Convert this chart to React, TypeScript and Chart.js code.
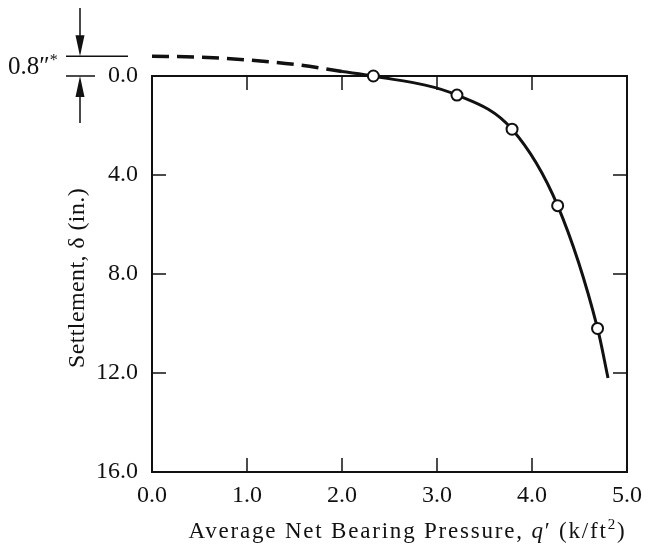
import React, { useEffect, useRef } from "react";
import { Chart, registerables } from "chart.js";

Chart.register(...registerables);

// Measured load test points (q', settlement)
const testQ = [2.33, 3.21, 3.79, 4.27, 4.69];
const testSettlement = [0.0, 0.77, 2.15, 5.24, 10.2];

// Fitted solid curve
const curveQ = [2.0, 2.33, 3.21, 3.79, 4.27, 4.69, 4.8];
const curveSettlement = [-0.18, 0.0, 0.77, 2.15, 5.24, 10.2, 12.2];

// Dashed extrapolation back to q' = 0
const dashQ = [0.0, 0.5, 1.0, 1.5, 2.0];
const dashSettlement = [-0.8, -0.76, -0.65, -0.47, -0.18];

const xTickValues = [0, 1, 2, 3, 4, 5];
const yTickValues = [0, 4, 8, 12, 16];
const offsetValue = -0.8;
const offsetLabel = "0.8\u2033";
const yTitle = "Settlement, \u03b4 (in.)";

const FONT = '"Liberation Serif", "Times New Roman", serif';
const INK = "#111";

const toPts = (xs: number[], ys: number[]) => xs.map((x, i) => ({ x, y: ys[i] }));

const decor = {
  id: "decor",
  beforeDatasetsDraw(chart: any) {
    const { ctx, chartArea: a, scales } = chart;
    const xs = scales.x;
    const ys = scales.y;
    ctx.save();
    ctx.strokeStyle = INK;
    ctx.lineWidth = 2;
    ctx.strokeRect(a.left, a.top, a.right - a.left, a.bottom - a.top);
    ctx.lineWidth = 1.5;
    const tl = 14;
    ctx.beginPath();
    xTickValues.slice(1, -1).forEach((v) => {
      const px = xs.getPixelForValue(v);
      ctx.moveTo(px, a.bottom);
      ctx.lineTo(px, a.bottom - tl);
      ctx.moveTo(px, a.top);
      ctx.lineTo(px, a.top + tl);
    });
    yTickValues.slice(1, -1).forEach((v) => {
      const py = ys.getPixelForValue(v);
      ctx.moveTo(a.left, py);
      ctx.lineTo(a.left + tl, py);
      ctx.moveTo(a.right, py);
      ctx.lineTo(a.right - tl, py);
    });
    ctx.stroke();
    ctx.restore();
  },
  afterDraw(chart: any) {
    const { ctx, chartArea: a, scales } = chart;
    const ys = scales.y;
    ctx.save();
    ctx.fillStyle = INK;
    ctx.strokeStyle = INK;

    // Y title
    ctx.font = `24px ${FONT}`;
    ctx.textAlign = "center";
    ctx.textBaseline = "middle";
    ctx.save();
    ctx.translate(a.left - 74, (a.top + a.bottom) / 2 + 4);
    ctx.rotate(-Math.PI / 2);
    (ctx as any).letterSpacing = "0.4px";
    ctx.fillText(yTitle, 0, 0);
    ctx.restore();

    // X title with italic q and superscript 2
    const base = `23px ${FONT}`;
    const ital = `italic 23px ${FONT}`;
    const sup = `15px ${FONT}`;
    const parts: [string, string, number][] = [
      ["Average Net Bearing Pressure, ", base, 0],
      ["q", ital, 0],
      ["\u2032 (k/ft", base, 0],
      ["2", sup, -9],
      [")", base, 0],
    ];
    (ctx as any).letterSpacing = "1.8px";
    ctx.textAlign = "left";
    ctx.textBaseline = "alphabetic";
    let total = 0;
    parts.forEach(([t, f]) => {
      ctx.font = f;
      total += ctx.measureText(t).width;
    });
    let x = (a.left + a.right) / 2 + 18 - total / 2;
    const by = a.bottom + 66;
    parts.forEach(([t, f, dy]) => {
      ctx.font = f;
      ctx.fillText(t, x, by + dy);
      x += ctx.measureText(t).width;
    });
    (ctx as any).letterSpacing = "0px";

    // Offset dimension annotation
    const yUp = ys.getPixelForValue(offsetValue);
    const yLo = ys.getPixelForValue(0);
    const l = a.left;
    ctx.lineWidth = 1.5;
    ctx.beginPath();
    ctx.moveTo(l - 86, yUp);
    ctx.lineTo(l - 24, yUp);
    ctx.moveTo(l - 86, yLo);
    ctx.lineTo(l - 57, yLo);
    const ax = l - 72;
    ctx.moveTo(ax, 8);
    ctx.lineTo(ax, yUp - 18);
    ctx.moveTo(ax, yLo + 18);
    ctx.lineTo(ax, yLo + 47);
    ctx.stroke();
    ctx.beginPath();
    ctx.moveTo(ax - 4.5, yUp - 21);
    ctx.lineTo(ax + 4.5, yUp - 21);
    ctx.lineTo(ax, yUp);
    ctx.closePath();
    ctx.moveTo(ax - 4.5, yLo + 21);
    ctx.lineTo(ax + 4.5, yLo + 21);
    ctx.lineTo(ax, yLo);
    ctx.closePath();
    ctx.fill();

    ctx.font = `25px ${FONT}`;
    ctx.textAlign = "left";
    ctx.textBaseline = "middle";
    const ty = (yUp + yLo) / 2 + 1;
    ctx.fillText(offsetLabel, 8, ty);
    const w = ctx.measureText(offsetLabel).width;
    ctx.font = `16px ${FONT}`;
    ctx.fillText("*", 8 + w, ty - 6);
    ctx.restore();
  },
};

export default function App() {
  const ref = useRef<HTMLCanvasElement | null>(null);
  useEffect(() => {
    if (!ref.current) return;
    const chart = new Chart(ref.current, {
      type: "scatter",
      data: {
        datasets: [
          {
            data: toPts(testQ, testSettlement),
            showLine: false,
            pointRadius: 5.5,
            pointBorderWidth: 2,
            pointBackgroundColor: "#fff",
            pointBorderColor: INK,
            order: 0,
            clip: false as any,
          },
          {
            data: toPts(curveQ, curveSettlement),
            showLine: true,
            borderColor: INK,
            borderWidth: 3,
            pointRadius: 0,
            cubicInterpolationMode: "monotone",
            order: 1,
            clip: false as any,
          },
          {
            data: toPts(dashQ, dashSettlement),
            showLine: true,
            borderColor: INK,
            borderWidth: 3.5,
            borderDash: [17, 8],
            pointRadius: 0,
            cubicInterpolationMode: "monotone",
            order: 2,
            clip: false as any,
          },
        ],
      },
      options: {
        animation: false,
        responsive: false,
        events: [],
        layout: { padding: { top: 76, right: 19, left: 0, bottom: 0 } },
        plugins: { legend: { display: false }, tooltip: { enabled: false } },
        scales: {
          x: {
            type: "linear",
            min: 0,
            max: 5,
            grid: { display: false, drawTicks: false },
            border: { display: false },
            afterFit: (s: any) => {
              s.height = 74;
            },
            afterBuildTicks: (s: any) => {
              s.ticks = xTickValues.map((v) => ({ value: v }));
            },
            ticks: {
              padding: 9,
              color: INK,
              font: { family: FONT, size: 24 },
              callback: (v: any) => Number(v).toFixed(1),
            },
          },
          y: {
            type: "linear",
            min: 0,
            max: 16,
            reverse: true,
            grid: { display: false, drawTicks: false },
            border: { display: false },
            afterFit: (s: any) => {
              s.width = 152;
            },
            afterBuildTicks: (s: any) => {
              s.ticks = yTickValues.map((v) => ({ value: v }));
            },
            ticks: {
              padding: 14,
              color: INK,
              font: { family: FONT, size: 24 },
              callback: (v: any) => Number(v).toFixed(1),
            },
          },
        },
      },
      plugins: [decor],
    });
    return () => chart.destroy();
  }, []);
  return (
    <div style={{ position: "fixed", left: 0, top: 0, width: 651, height: 546, background: "#fff" }}>
      <canvas ref={ref} width={651} height={546} style={{ display: "block" }} />
    </div>
  );
}
